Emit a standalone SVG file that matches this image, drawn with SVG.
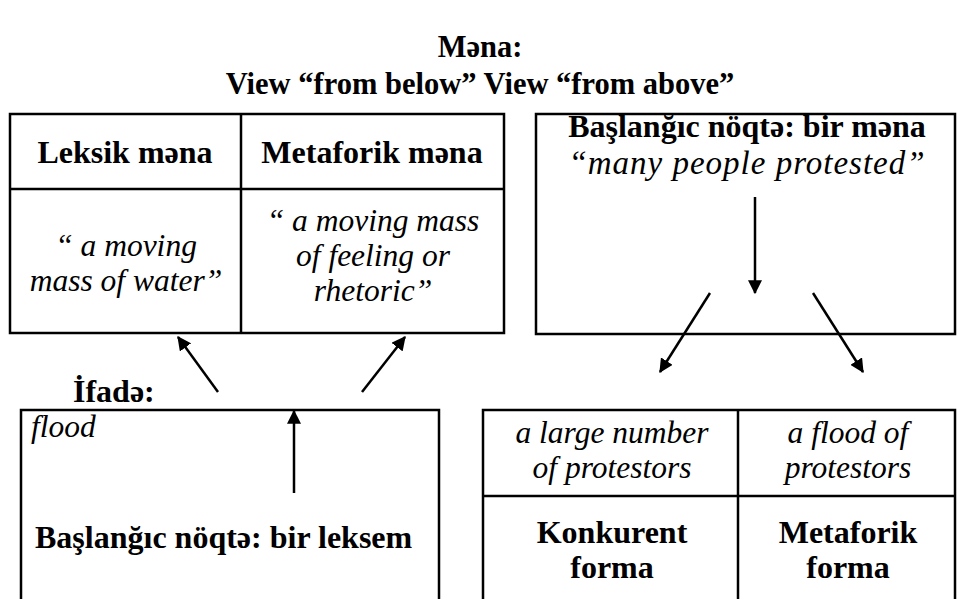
<svg xmlns="http://www.w3.org/2000/svg" width="957" height="599" viewBox="0 0 957 599">
<defs>
<marker id="ahm" viewBox="0 0 12 12" refX="11" refY="6" markerWidth="14" markerHeight="14" markerUnits="userSpaceOnUse" orient="auto">
<path d="M0,0 L12,6 L0,12 z" fill="#000"/>
</marker>
<style>
.t{font-family:"Liberation Serif","Times New Roman",serif;font-weight:bold;font-size:30.5px;fill:#000}
.b{font-family:"Liberation Serif","Times New Roman",serif;font-weight:bold;font-size:32px;fill:#000}
.i{font-family:"Liberation Serif","Times New Roman",serif;font-style:italic;font-size:31.5px;fill:#000}
.box{fill:none;stroke:#000;stroke-width:2.5}
.ln{stroke:#000;stroke-width:2.5}
.ar{stroke:#000;stroke-width:2.5;fill:none;marker-end:url(#ahm)}
</style>
</defs>
<rect width="957" height="599" fill="#fff"/>
<g id="title">
<text class="t" x="480" y="57" text-anchor="middle">Məna:</text>
<text class="t" x="480" y="94" text-anchor="middle">View “from below” View “from above”</text>
</g>
<g id="meaning-table">
<rect class="box" x="10" y="114" width="494" height="219"/>
<line class="ln" x1="241" y1="114" x2="241" y2="333"/>
<line class="ln" x1="10" y1="189" x2="504" y2="189"/>
<text class="b" x="125" y="163" text-anchor="middle">Leksik məna</text>
<text class="b" x="372" y="163" text-anchor="middle">Metaforik məna</text>
<text class="i" x="126" y="256" text-anchor="middle">“ a moving</text>
<text class="i" x="126" y="291" text-anchor="middle">mass of water”</text>
<text class="i" x="373" y="231" text-anchor="middle">“ a moving mass</text>
<text class="i" x="373" y="266" text-anchor="middle">of feeling or</text>
<text class="i" x="373" y="301" text-anchor="middle">rhetoric”</text>
</g>
<g id="start-meaning">
<rect class="box" x="536" y="114" width="419" height="220"/>
<text class="b" x="747" y="137" text-anchor="middle">Başlanğıc nöqtə: bir məna</text>
<text class="i" x="747" y="174" text-anchor="middle" style="font-size:33px;letter-spacing:1px">“many people protested”</text>
</g>
<g id="expression">
<text class="b" x="73" y="402">İfadə:</text>
<rect class="box" x="21" y="410" width="418" height="200"/>
<text class="i" x="31" y="437">flood</text>
<text class="b" x="35" y="548">Başlanğıc nöqtə: bir leksem</text>
</g>
<g id="form-table">
<rect class="box" x="483" y="410" width="472" height="200"/>
<line class="ln" x1="738" y1="410" x2="738" y2="610"/>
<line class="ln" x1="483" y1="496" x2="955" y2="496"/>
<text class="i" x="612" y="443" text-anchor="middle">a large number</text>
<text class="i" x="612" y="478" text-anchor="middle">of protestors</text>
<text class="i" x="848" y="443" text-anchor="middle">a flood of</text>
<text class="i" x="848" y="478" text-anchor="middle">protestors</text>
<text class="b" x="612" y="543" text-anchor="middle">Konkurent</text>
<text class="b" x="612" y="578" text-anchor="middle">forma</text>
<text class="b" x="848" y="543" text-anchor="middle">Metaforik</text>
<text class="b" x="848" y="578" text-anchor="middle">forma</text>
</g>
<g id="connectors">
<line class="ar" x1="218" y1="392" x2="178" y2="337"/>
<line class="ar" x1="362" y1="392" x2="405" y2="337"/>
<line class="ar" x1="294" y1="493" x2="294" y2="411"/>
<line class="ar" x1="755" y1="197" x2="755" y2="293"/>
<line class="ar" x1="710" y1="293" x2="660" y2="372"/>
<line class="ar" x1="813" y1="293" x2="863" y2="372"/>
</g>
</svg>
